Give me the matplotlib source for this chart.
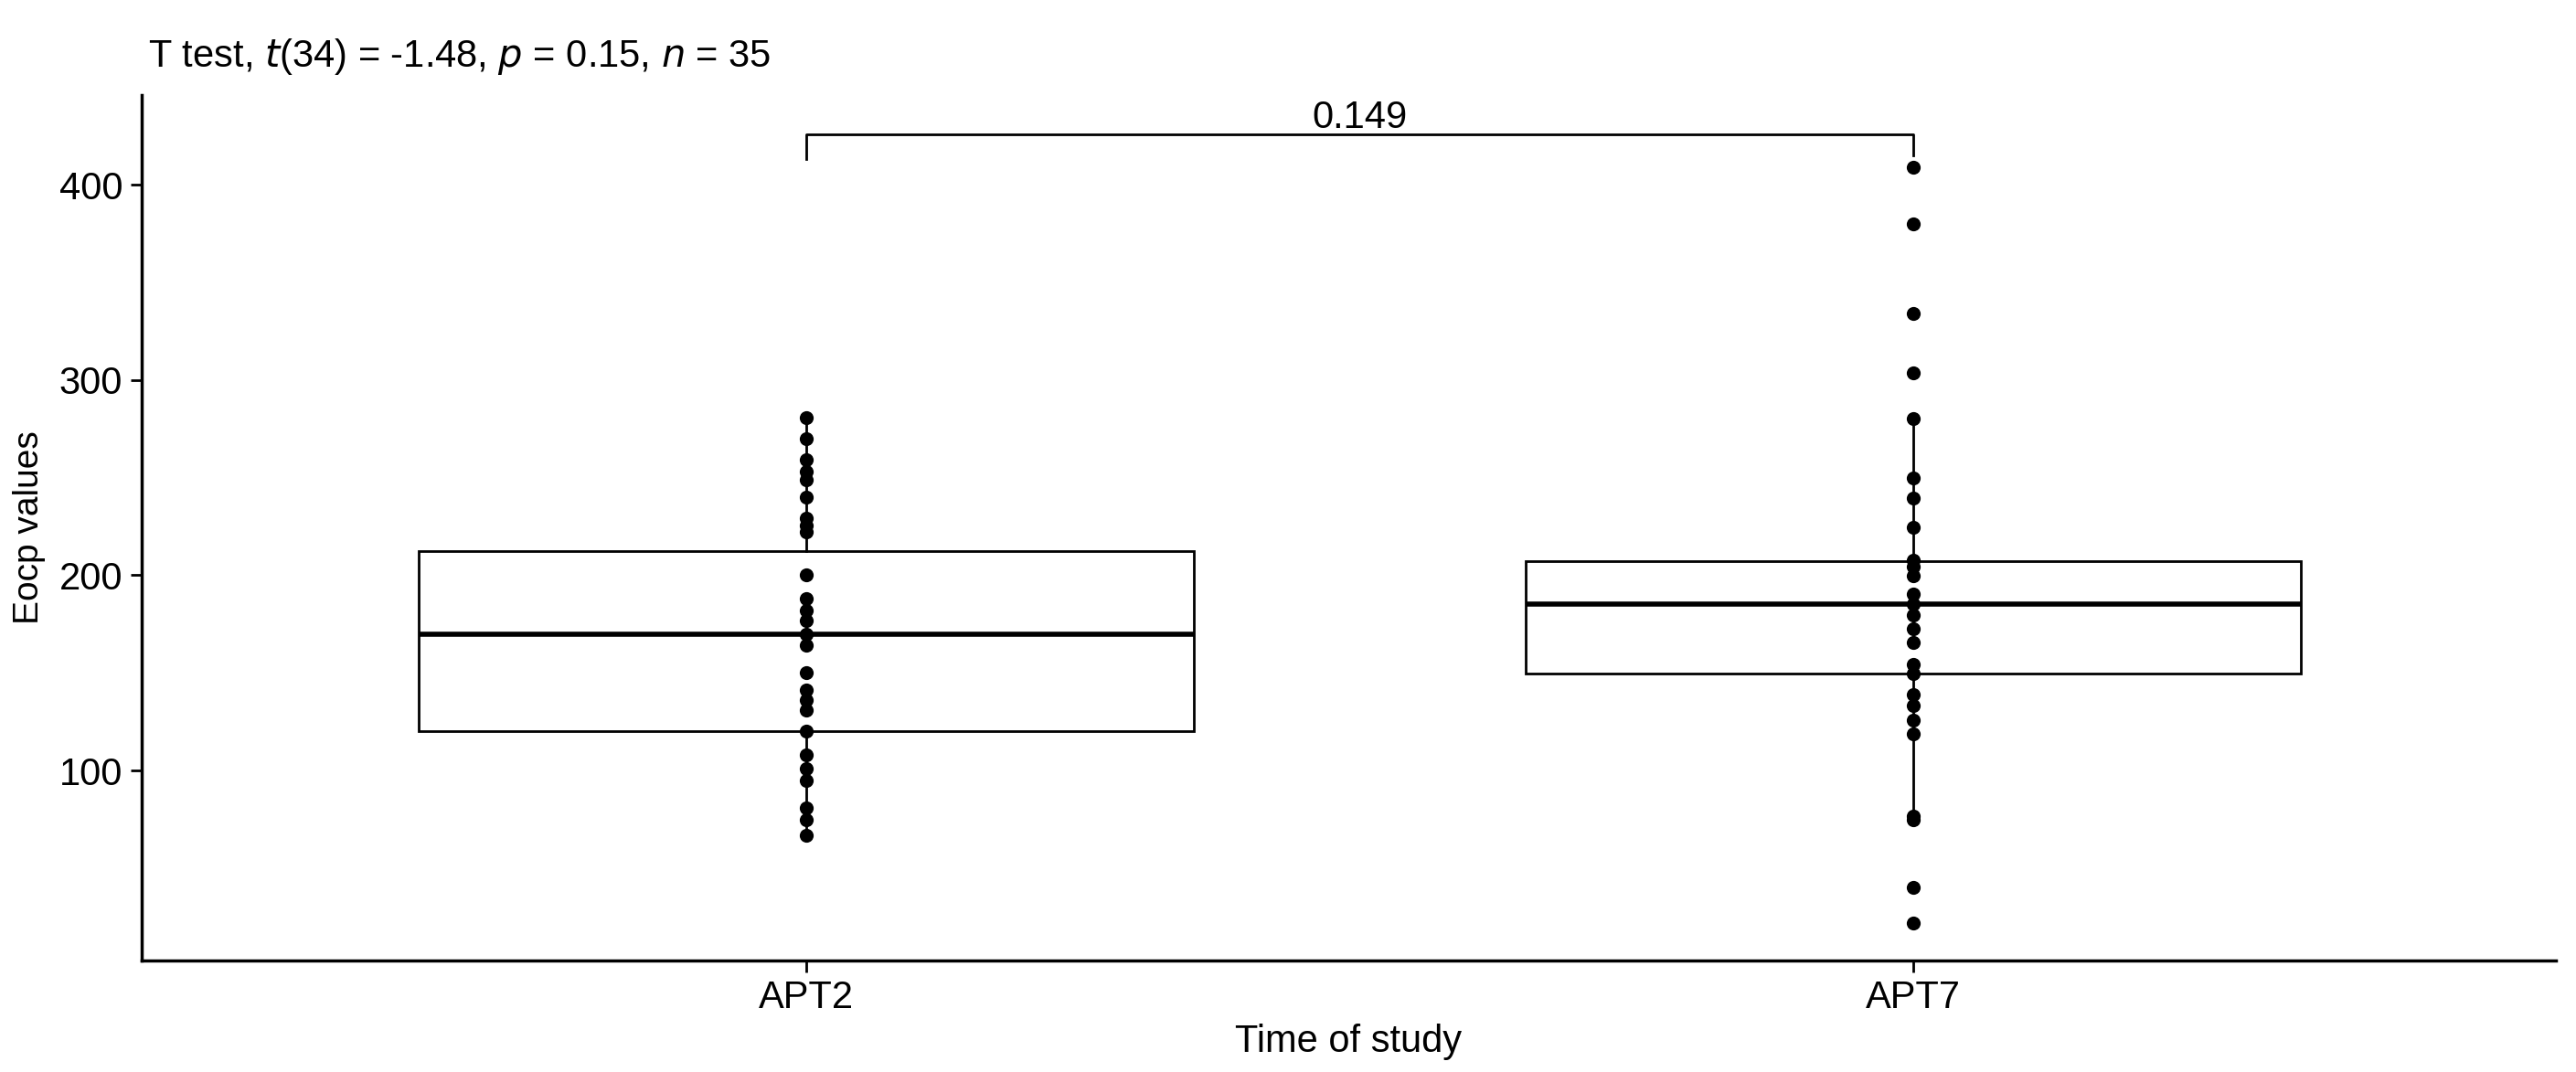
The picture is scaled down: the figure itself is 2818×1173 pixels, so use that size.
import numpy as np
import matplotlib.pyplot as plt

plt.rcParams['font.family'] = ['Liberation Sans', 'DejaVu Sans']

# groups
groups = ["APT2", "APT7"]

# individual Eocp values
apt2 = [280.5, 270, 259, 253, 249, 240, 229, 225.5, 222, 200, 188, 182, 177,
        170, 164, 150, 141, 136, 131, 120, 108, 101, 95, 81, 75, 67]
apt7 = [409, 380, 334, 303.5, 280, 249.6, 239.5, 224.7, 207.5, 204.4, 199.7,
        190.4, 185, 179.4, 172.4, 165.4, 154.5, 149.8, 138.9, 133.4, 125.6,
        118.6, 76.5, 75, 40, 22]

# box statistics (q1, median, q3, whisker low, whisker high)
q1 = [120.2, 149.5]
med = [170.0, 185.0]
q3 = [212.5, 207.0]
wlo = [67, 75]
whi = [280.5, 280]

p_label = "0.149"
title = r"T test, $\mathit{t}$(34) = -1.48, $\mathit{p}$ = 0.15, $\mathit{n}$ = 35"

fig = plt.figure(figsize=(28.18, 11.73), dpi=100)
ax = fig.add_axes([155 / 2818, 1 - 1051 / 1173, (2796 - 155) / 2818, (1051 - 104) / 1173])

stats = []
for i in range(2):
    stats.append(dict(q1=q1[i], med=med[i], q3=q3[i], whislo=wlo[i], whishi=whi[i],
                      fliers=[], label=groups[i]))

ax.bxp(stats, positions=[1, 2], widths=0.7, showcaps=False, patch_artist=True,
       boxprops=dict(facecolor="white", edgecolor="black", linewidth=2),
       medianprops=dict(color="black", linewidth=4),
       whiskerprops=dict(color="black", linewidth=2), zorder=2)

ax.scatter(np.full(len(apt2), 1), apt2, s=120, color="black", zorder=3, linewidths=0)
ax.scatter(np.full(len(apt7), 2), apt7, s=120, color="black", zorder=3, linewidths=0)

# significance bracket
ax.plot([1, 1, 2, 2], [413, 425.7, 425.7, 415], color="black", linewidth=2)
ax.text(1.5, 425.0, p_label, ha="center", va="bottom", fontsize=30)

ax.set_xlim(0.4, 2.58)
ax.set_ylim(2.7, 445.9)
ax.set_xticks([1, 2])
ax.set_xticklabels(groups)
ax.set_yticks([100, 200, 300, 400])
ax.tick_params(labelsize=30, length=9, width=2, color="black", labelcolor="black", pad=6)

for s in ["top", "right"]:
    ax.spines[s].set_visible(False)
for s in ["left", "bottom"]:
    ax.spines[s].set_linewidth(2.5)

ax.set_xlabel("Time of study", fontsize=30)
ax.set_ylabel("Eocp values", fontsize=28)
ax.yaxis.set_label_coords(-0.0398, 0.5)
ax.xaxis.set_label_coords(0.5, -0.073)

fig.text(162 / 2818, 1 - 62 / 1173, title, fontsize=30, ha="left", va="center")

plt.savefig("out.png", dpi=100)
